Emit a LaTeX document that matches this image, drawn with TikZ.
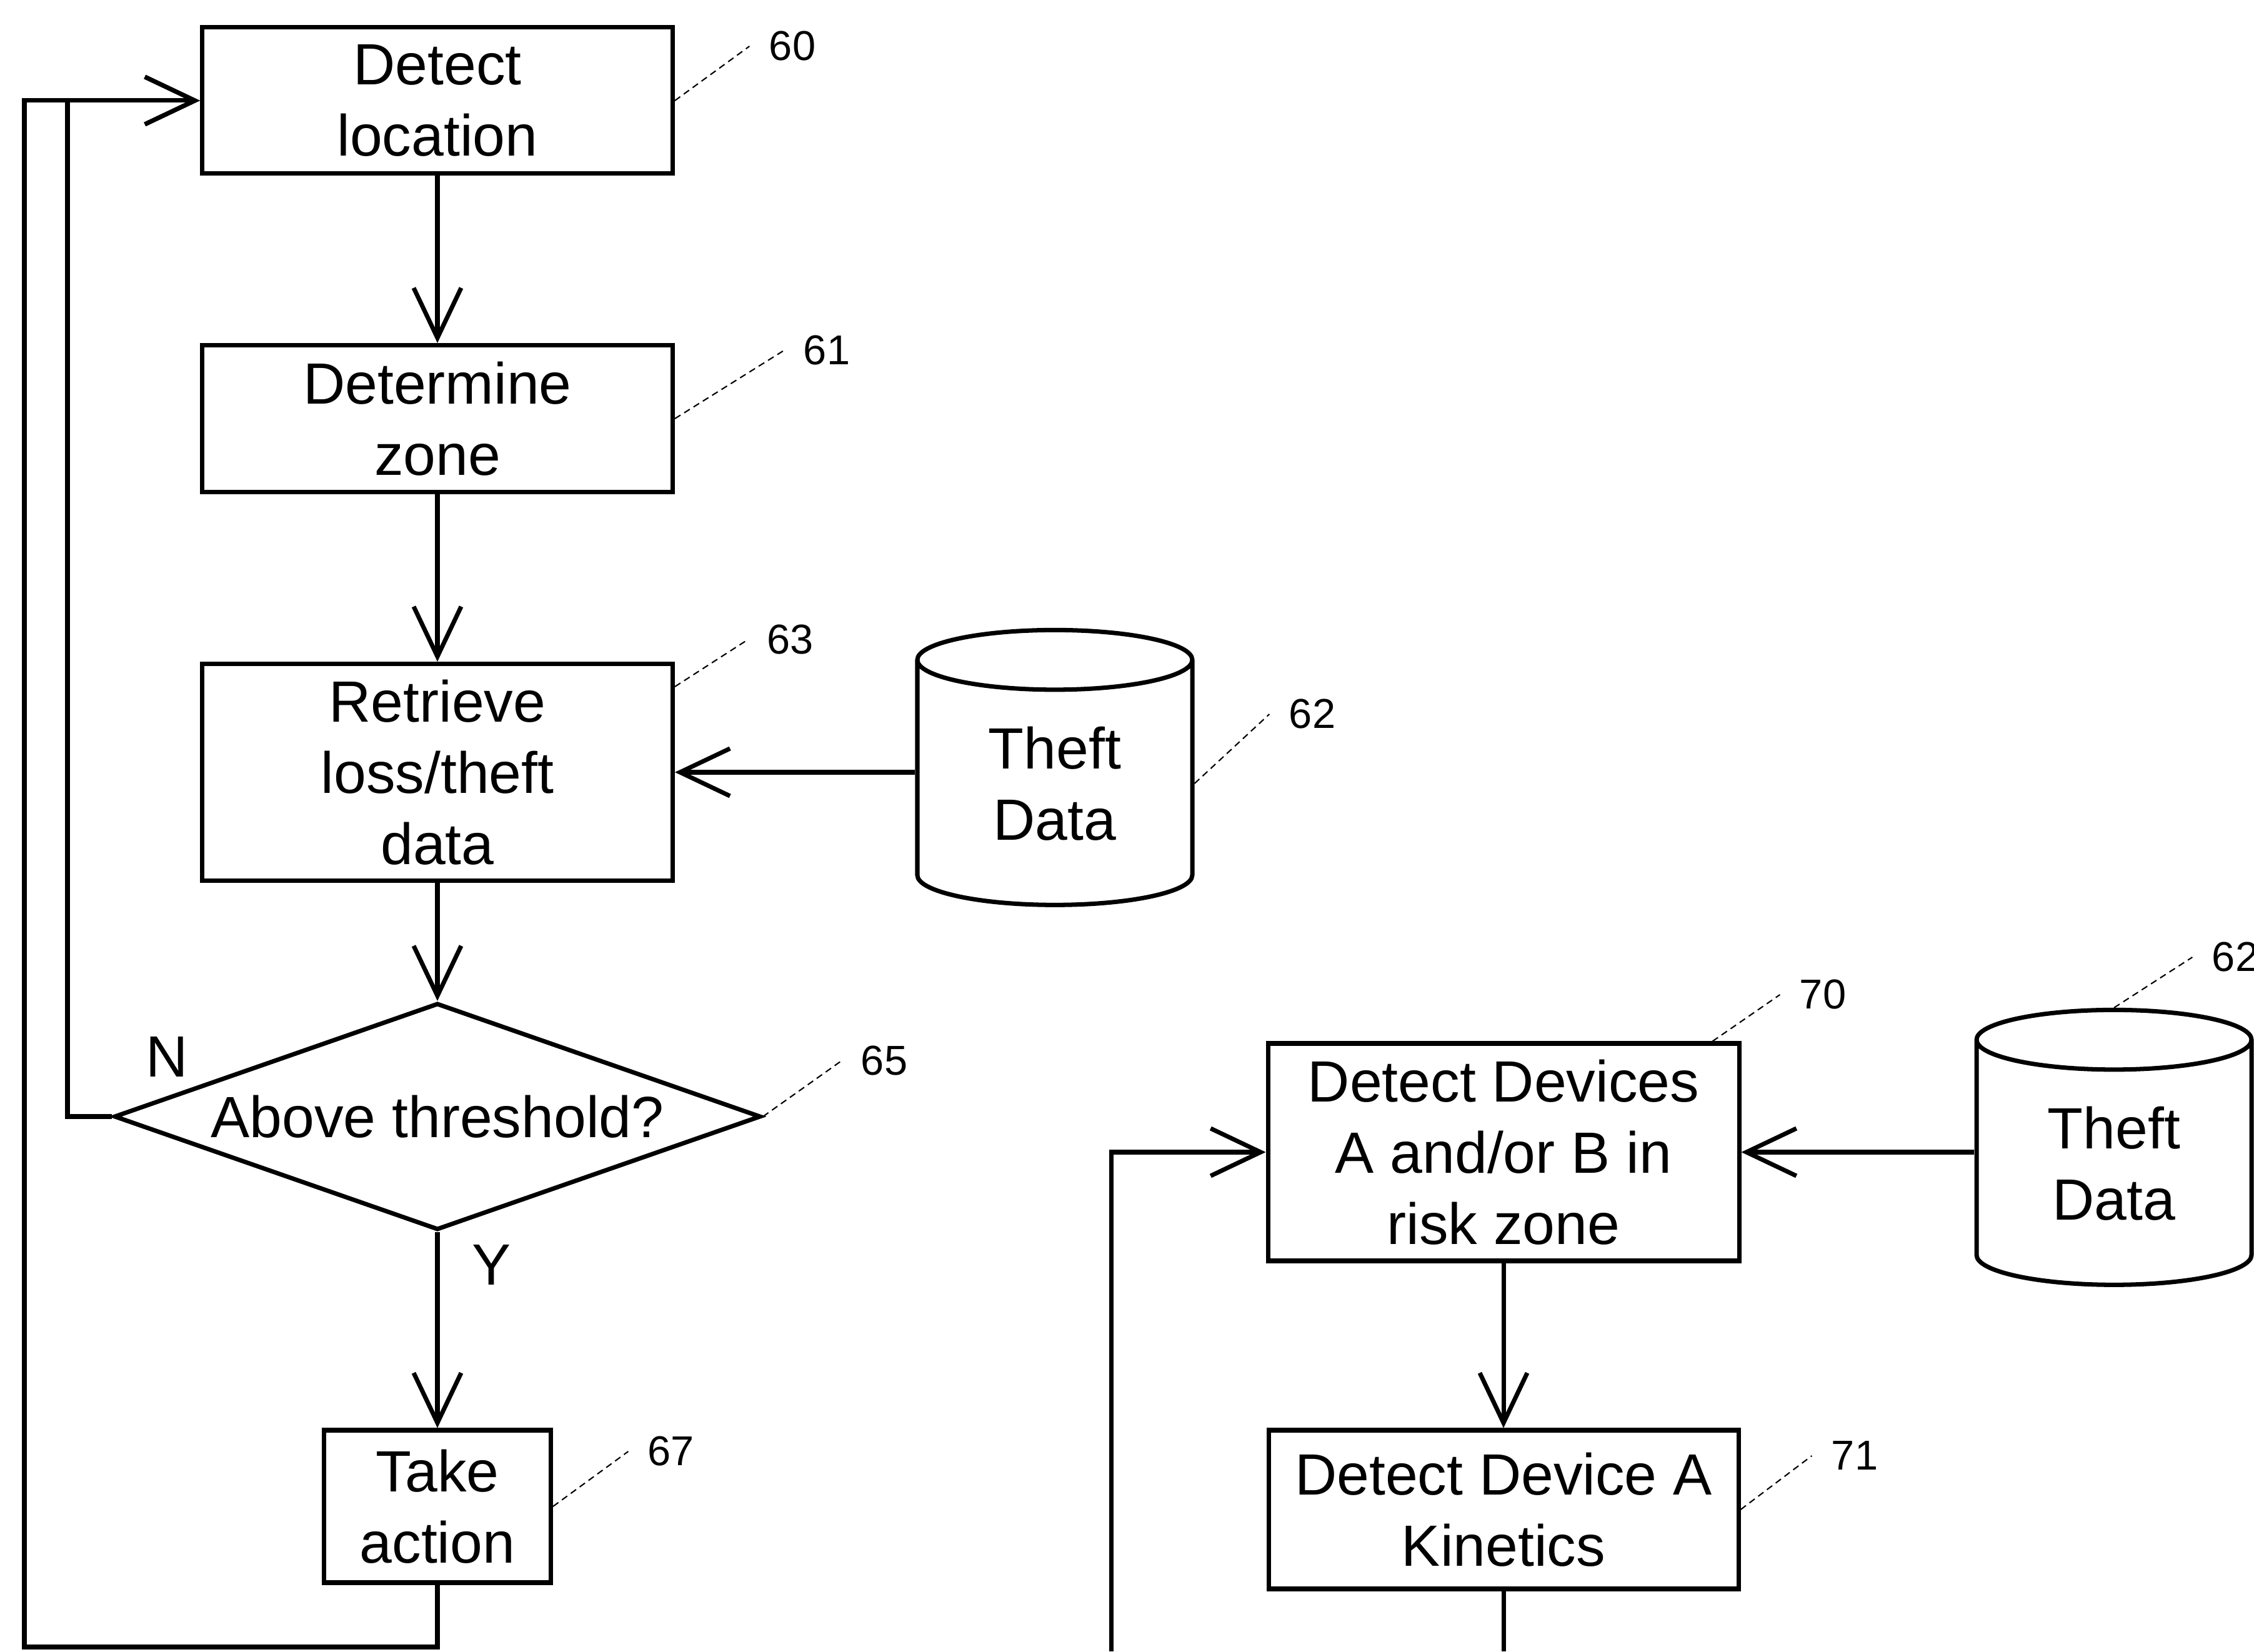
\documentclass[tikz,border=0pt]{standalone}
\usepackage{fontspec}
\setmainfont{Liberation Sans}
\usetikzlibrary{shapes.geometric,arrows.meta}

\begin{document}
\begin{tikzpicture}[line width=2pt,
  txt/.style={font=\fontsize{26.5}{32.5}\selectfont},
  box/.style={draw,rectangle,inner sep=0pt,align=center,txt},
  store/.style={draw,cylinder,shape border rotate=90,aspect=0.45,inner sep=0pt,minimum width=4.4cm,minimum height=4.4cm,align=center,txt},
  decide/.style={draw,diamond,aspect=2.85,inner sep=0pt,minimum width=10.35cm,minimum height=3.63cm,txt},
  flow/.style={-{Straight Barb[length=8mm,width=7.6mm]}},
  refnum/.style={inner sep=2.8mm,font=\fontsize{19}{23}\selectfont},
  leader/.style={line width=0.6pt,densely dashed}]
\clip (0,0) rectangle (36.07,26.43);
% left flow
\draw node[box,minimum width=7.53cm,minimum height=2.34cm] (dl) at (7,24.82) {Detect\\location};
\draw node[box,minimum width=7.53cm,minimum height=2.35cm] (dz) at (7,19.73) {Determine\\zone};
\draw node[box,minimum width=7.53cm,minimum height=3.47cm] (rd) at (7,14.07) {Retrieve\\loss/theft\\data};
\draw node[store] (td) at (16.88,13.89) {Theft\\Data};
\draw node[decide] (at) at (7,8.56) {Above threshold?};
\draw node[box,minimum width=3.63cm,minimum height=2.44cm] (ta) at (7,2.32) {Take\\action};
\coordinate (nloop) at (1.08,24.82);
\coordinate (yloop) at (0.39,0.07);
\draw[flow] (dl) -- (dz);
\draw[flow] (dz) -- (rd);
\draw[flow] (rd -| td.west) -- (rd.east);
\draw[flow] (rd) -- (at);
\draw[flow] (at) -- (ta);
\draw[flow] (at.west) -| (nloop) -- (dl.west);
\draw[flow] (ta.south) |- (yloop) |- (dl.west);
\draw node[txt] (no) at (2.67,9.52) {N};
\draw node[txt] (yes) at (7.87,6.19) {Y};
% right flow
\draw node[box,minimum width=7.54cm,minimum height=3.48cm] (dd) at (24.06,7.99) {Detect Devices\\A and/or B in\\risk zone};
\draw node[store] (td2) at (33.83,7.81) {Theft\\Data};
\draw node[box,minimum width=7.52cm,minimum height=2.54cm] (dk) at (24.06,2.27) {Detect Device A\\Kinetics};
\coordinate (lin) at (17.78,0);
\coordinate (lout) at (24.06,0);
\draw[flow] (dd -| td2.west) -- (dd.east);
\draw[flow] (lin) |- (dd.west);
\draw[flow] (dd) -- (dk);
\draw (dk.south) -- (lout);
% reference numbers
\draw node[refnum] (n60) at (12.68,25.69) {60};
\draw node[refnum] (n61) at (13.23,20.82) {61};
\draw node[refnum] (n63) at (12.65,16.19) {63};
\draw node[refnum] (n62) at (21.00,15.00) {62};
\draw node[refnum] (n65) at (14.15,9.45) {65};
\draw node[refnum] (n67) at (10.74,3.20) {67};
\draw node[refnum] (n70) at (29.17,10.51) {70};
\draw node[refnum] (n62b) at (35.77,11.11) {62};
\draw node[refnum] (n71) at (29.68,3.13) {71};
\draw[leader] (dl.east) -- (n60.west);
\draw[leader] (dz.east) -- (n61.west);
\draw[leader] ([yshift=-4mm]rd.north east) -- (n63.west);
\draw[leader] (td.east) -- (n62.west);
\draw[leader] (at.east) -- (n65.west);
\draw[leader] (ta.east) -- (n67.west);
\draw[leader] ([xshift=-4.6mm]dd.north east) -- (n70.west);
\draw[leader] (td2.north) -- (n62b.west);
\draw[leader] (dk.east) -- (n71.west);
\end{tikzpicture}
\end{document}
